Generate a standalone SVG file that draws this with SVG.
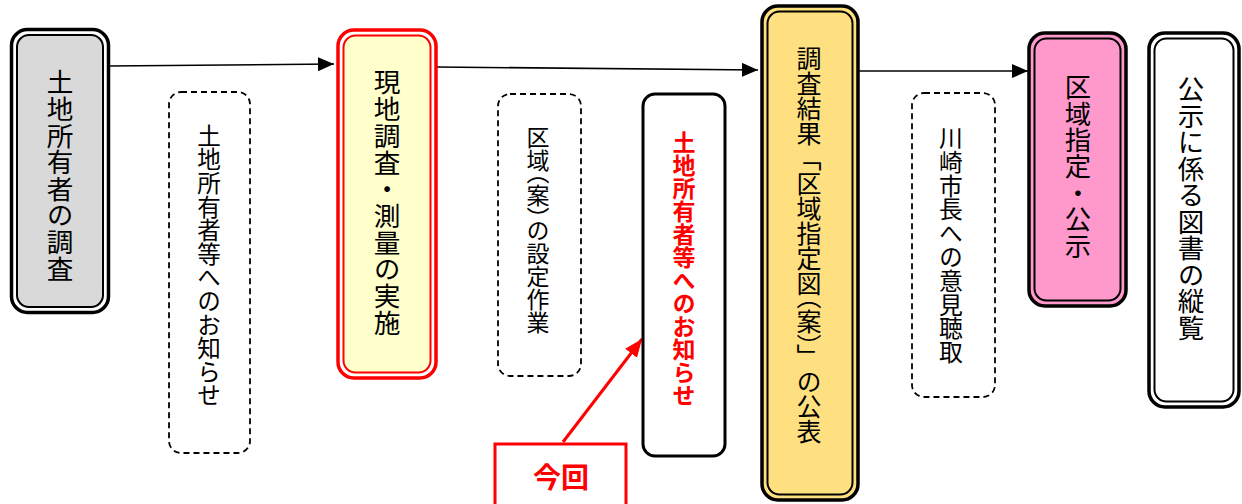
<svg xmlns="http://www.w3.org/2000/svg" width="1242" height="504" viewBox="0 0 1242 504">
<style>
.vt{font-family:"Noto Sans CJK JP","Noto Sans CJK SC",sans-serif;writing-mode:vertical-rl;fill:#000}
.outer{stroke:#000;stroke-width:3.5}
.inner{stroke:#000;stroke-width:2}
.dash{fill:#fff;stroke:#000;stroke-width:1.8;stroke-dasharray:6 4}
.conn{stroke:#000;stroke-width:1.6;fill:none}
</style>
<defs>
<marker id="ah" markerUnits="userSpaceOnUse" markerWidth="17" markerHeight="16" refX="16" refY="7" orient="auto">
<path d="M0,0 L16,7 L0,14 z" fill="#000"/>
</marker>
<marker id="ahr" markerUnits="userSpaceOnUse" markerWidth="19" markerHeight="16" refX="18" refY="7.5" orient="auto">
<path d="M0,0 L18,7.5 L0,15 z" fill="#ff0000"/>
</marker>
</defs>
<rect width="1242" height="504" fill="#fff"/>

<g id="connectors">
<line class="conn" x1="109" y1="66" x2="334" y2="64" marker-end="url(#ah)"/>
<line class="conn" x1="437" y1="67" x2="758" y2="70" marker-end="url(#ah)"/>
<line class="conn" x1="859" y1="71" x2="1028" y2="71" marker-end="url(#ah)"/>
<line x1="563" y1="442" x2="642" y2="339" stroke="#ff0000" stroke-width="3" marker-end="url(#ahr)"/>
</g>

<g id="node-survey-owners">
<rect class="outer" x="11.5" y="29.5" width="97" height="283" rx="16" fill="#fff"/>
<rect class="inner" x="17" y="35" width="86" height="272" rx="12" fill="#d9d9d9"/>
<text class="vt" x="60" y="69" font-size="26.6">土地所有者の調査</text>
</g>

<g id="node-notice1">
<rect class="dash" x="169" y="92" width="81" height="361" rx="12"/>
<text class="vt" x="209" y="124" font-size="23.6">土地所有者等へのお知らせ</text>
</g>

<g id="node-field-survey">
<rect x="338" y="30" width="98" height="348" rx="16" fill="#fff" stroke="#ff0000" stroke-width="3.5"/>
<rect x="343.5" y="35.5" width="87" height="337" rx="12" fill="#ffffcc" stroke="#ff0000" stroke-width="2"/>
<text class="vt" x="387" y="69" font-size="26.7">現地調査・測量の実施</text>
</g>

<g id="node-area-draft">
<rect class="dash" x="498" y="94" width="83" height="282" rx="12"/>
<text class="vt" x="538" y="126" font-size="23">区<tspan letter-spacing="-11">域</tspan>（案<tspan letter-spacing="-11">）</tspan>の設定作業</text>
</g>

<g id="node-notice2">
<rect x="643" y="94" width="82" height="362" rx="12" fill="#fff" stroke="#000" stroke-width="3"/>
<text class="vt" x="684" y="131" font-size="23" font-weight="bold" style="fill:#ff0000">土地所有者等へのお知らせ</text>
</g>

<g id="node-konkai">
<rect x="495" y="444" width="131" height="70" fill="#fff" stroke="#ff0000" stroke-width="3"/>
<text x="561" y="488" font-family="Noto Sans CJK JP, sans-serif" font-size="28" font-weight="bold" fill="#ff0000" text-anchor="middle">今回</text>
</g>

<g id="node-publish">
<rect class="outer" x="762" y="6" width="96" height="494" rx="16" fill="#ffe080"/>
<rect class="inner" x="767.5" y="11.5" width="85" height="483" rx="12" fill="#ffe080"/>
<text class="vt" x="809" y="46" font-size="25">調査結果「区域指定<tspan letter-spacing="-12">図</tspan>（案<tspan letter-spacing="-3">）</tspan>」の公表</text>
</g>

<g id="node-mayor">
<rect class="dash" x="912" y="93" width="83" height="304" rx="12"/>
<text class="vt" x="951" y="126" font-size="23.8">川崎市長への意見聴取</text>
</g>

<g id="node-designation">
<rect class="outer" x="1029" y="33" width="97" height="273" rx="16" fill="#ff99cc"/>
<rect class="inner" x="1034.5" y="38.5" width="86" height="262" rx="12" fill="#ff99cc"/>
<text class="vt" x="1078" y="74" font-size="26.4">区域指定・公示</text>
</g>

<g id="node-inspection">
<rect class="outer" x="1149" y="33" width="90" height="374" rx="16" fill="#fff"/>
<rect class="inner" x="1154.5" y="38.5" width="79" height="363" rx="12" fill="#fff"/>
<text class="vt" x="1191" y="76" font-size="26.5">公示に係る図書の縦覧</text>
</g>
</svg>
